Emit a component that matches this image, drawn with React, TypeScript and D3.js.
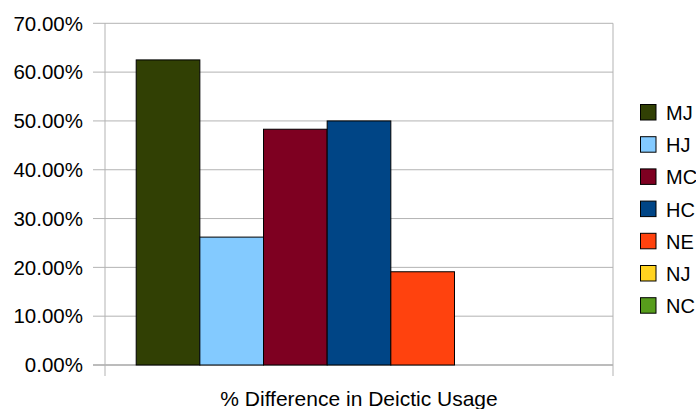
import React from "react";
import * as d3 from "d3";

// Chart data
const category = "% Difference in Deictic Usage";
const seriesNames = ["MJ", "HJ", "MC", "HC", "NE", "NJ", "NC"];
const seriesValues = [62.5, 26.2, 48.3, 50.0, 19.1, 0, 0];
const seriesColors = ["#314004", "#83caff", "#7e0021", "#004586", "#ff420e", "#ffd320", "#579d1c"];
const yTicks = [0, 10, 20, 30, 40, 50, 60, 70];

const W = 696;
const H = 409;
const plot = { left: 105, right: 613, top: 23.3, bottom: 365 };
const FONT = "'Liberation Sans', Arial, sans-serif";

export default function App() {
  const y = d3.scaleLinear().domain([0, 70]).range([plot.bottom, plot.top]);
  const xCat = d3.scaleBand<string>().domain([category]).range([plot.left, plot.right]);
  const xSeries = d3
    .scaleBand<string>()
    .domain(seriesNames)
    .range([0, xCat.bandwidth()])
    .paddingInner(0)
    .paddingOuter(0.49);
  const fmt = (v: number) => `${v.toFixed(2)}%`;
  const catX = xCat(category) as number;

  return (
    <svg
      width={W}
      height={H}
      style={{ position: "absolute", left: 0, top: 0, background: "#fff" }}
      fontFamily={FONT}
    >
      {/* horizontal gridlines with left tick extensions */}
      {yTicks.map((t) => (
        <line
          key={`g${t}`}
          x1={plot.left - 12}
          x2={plot.right}
          y1={y(t)}
          y2={y(t)}
          stroke={t === 0 ? "#a6a6a6" : "#b3b3b3"}
          strokeWidth={t === 0 ? 1.5 : 1}
        />
      ))}
      {/* y-axis and category boundary lines */}
      <line x1={plot.left} x2={plot.left} y1={plot.top} y2={plot.bottom + 11} stroke="#b3b3b3" />
      <line x1={plot.right} x2={plot.right} y1={plot.top} y2={plot.bottom + 11} stroke="#b3b3b3" />

      {/* y tick labels */}
      {yTicks.map((t) => (
        <text
          key={`l${t}`}
          x={83}
          y={y(t) + 7.2}
          textAnchor="end"
          fontSize={20.5}
          fill="#000"
        >
          {fmt(t)}
        </text>
      ))}

      {/* bars */}
      {seriesNames.map((s, i) =>
        seriesValues[i] > 0 ? (
          <rect
            key={s}
            x={catX + (xSeries(s) as number)}
            y={y(seriesValues[i])}
            width={xSeries.bandwidth()}
            height={y(0) - y(seriesValues[i])}
            fill={seriesColors[i]}
            stroke="#000"
            strokeWidth={1}
          />
        ) : null
      )}

      {/* category label */}
      <text
        x={catX + xCat.bandwidth() / 2}
        y={406}
        textAnchor="middle"
        fontSize={21}
        fill="#000"
      >
        {category}
      </text>

      {/* legend */}
      {seriesNames.map((s, i) => {
        const top = 104.5 + i * 32.2;
        return (
          <g key={`lg${s}`}>
            <rect x={640.5} y={top} width={15.5} height={15.5} fill={seriesColors[i]} stroke="#000" strokeWidth={1} />
            <text x={666} y={top + 15.5} fontSize={20} fill="#000">
              {s}
            </text>
          </g>
        );
      })}
    </svg>
  );
}
